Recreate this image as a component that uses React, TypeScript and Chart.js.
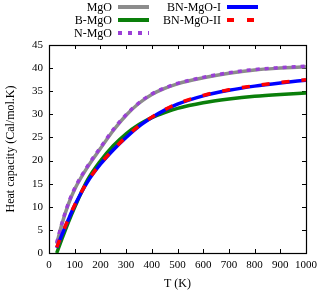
import React, { useEffect, useRef } from "react";
import { Chart, registerables } from "chart.js";

Chart.register(...registerables);

const temps = [30, 50, 75, 100, 150, 200, 250, 300, 350, 400, 450, 500, 600, 700, 800, 900, 1000];
const mgo = [2.0, 6.2, 10.5, 13.8, 18.6, 22.6, 26.5, 29.8, 32.4, 34.3, 35.6, 36.6, 37.9, 38.9, 39.6, 40.0, 40.3];
const nmgo = [2.2, 6.4, 10.7, 14.0, 18.8, 22.8, 26.7, 29.9, 32.5, 34.4, 35.7, 36.7, 38.0, 39.0, 39.7, 40.1, 40.4];
const bmgo = [0, 3.0, 6.6, 9.9, 15.8, 19.9, 23.2, 25.8, 27.8, 29.3, 30.4, 31.3, 32.5, 33.3, 33.9, 34.3, 34.6];
const bn1 = [1.1, 3.9, 7.2, 10.3, 15.4, 19.2, 22.3, 25.0, 27.4, 29.3, 30.9, 32.2, 34.0, 35.2, 36.1, 36.8, 37.4];
const bn2 = [1.2, 4.0, 7.3, 10.4, 15.5, 19.3, 22.4, 25.1, 27.5, 29.4, 31.0, 32.3, 34.1, 35.3, 36.2, 36.9, 37.5];

const seriesNames = ["MgO", "N-MgO", "B-MgO", "BN-MgO-I", "BN-MgO-II"];
const xTicks = [0, 100, 200, 300, 400, 500, 600, 700, 800, 900, 1000];
const yTicks = [0, 5, 10, 15, 20, 25, 30, 35, 40, 45];

const FONT = "'Liberation Serif', 'Times New Roman', serif";

const C_GRAY = "#8c8c8c";
const C_PURPLE = "#9a3fd6";
const C_GREEN = "#0a7f0a";
const C_BLUE = "#0000ff";
const C_RED = "#ff0000";

const frame = {
  id: "frame",
  beforeDatasetsDraw(chart: any) {
    const { ctx, chartArea: a, scales } = chart;
    ctx.save();
    ctx.strokeStyle = "#000";
    ctx.lineWidth = 1;
    const L = 4;
    ctx.beginPath();
    for (const t of xTicks) {
      const x = Math.round(scales.x.getPixelForValue(t)) + 0.5;
      ctx.moveTo(x, a.bottom);
      ctx.lineTo(x, a.bottom - L);
      ctx.moveTo(x, a.top);
      ctx.lineTo(x, a.top + L);
    }
    for (const t of yTicks) {
      const y = Math.round(scales.y.getPixelForValue(t)) + 0.5;
      ctx.moveTo(a.left, y);
      ctx.lineTo(a.left + L, y);
      ctx.moveTo(a.right, y);
      ctx.lineTo(a.right - L, y);
    }
    ctx.stroke();
    ctx.lineWidth = 1.2;
    ctx.strokeRect(Math.round(a.left) + 0.5, Math.round(a.top) + 0.5, Math.round(a.right - a.left), Math.round(a.bottom - a.top));
    ctx.restore();
  },
};

const legendItems = [
  { label: seriesNames[0], color: C_GRAY, dash: "solid", x: 112, y: 7 },
  { label: seriesNames[2], color: C_GREEN, dash: "solid", x: 112, y: 20 },
  { label: seriesNames[1], color: C_PURPLE, dash: "dot", x: 112, y: 33 },
  { label: seriesNames[3], color: C_BLUE, dash: "solid", x: 221, y: 7 },
  { label: seriesNames[4], color: C_RED, dash: "dash", x: 221, y: 20 },
];

function Sample({ color, dash }: { color: string; dash: string }) {
  const pattern =
    dash === "solid"
      ? undefined
      : dash === "dot"
      ? `repeating-linear-gradient(90deg, ${color} 0 4px, transparent 4px 10px)`
      : `repeating-linear-gradient(90deg, ${color} 0 7px, transparent 7px 20px)`;
  return (
    <div
      style={{
        width: 31,
        height: 3.5,
        background: pattern ? pattern : color,
      }}
    />
  );
}

export default function App() {
  const ref = useRef<HTMLCanvasElement>(null);
  useEffect(() => {
    const mk = (data: number[], color: string, order: number, dash: number[] = []) => ({
      data: temps.map((t, i) => ({ x: t, y: data[i] })),
      borderColor: color,
      backgroundColor: color,
      borderWidth: 3.5,
      borderDash: dash,
      pointRadius: 0,
      order,
      cubicInterpolationMode: "monotone" as const,
      fill: false,
    });
    const chart = new Chart(ref.current!, {
      type: "line",
      data: {
        datasets: [
          { label: seriesNames[0], ...mk(mgo, C_GRAY, 5) },
          { label: seriesNames[1], ...mk(nmgo, C_PURPLE, 4, [4, 5]) },
          { label: seriesNames[2], ...mk(bmgo, C_GREEN, 3) },
          { label: seriesNames[3], ...mk(bn1, C_BLUE, 2) },
          { label: seriesNames[4], ...mk(bn2, C_RED, 1, [8, 12]) },
        ],
      },
      options: {
        responsive: false,
        animation: false,
        layout: { padding: { top: 45, right: 26, left: 0, bottom: 0 } },
        plugins: { legend: { display: false }, tooltip: { enabled: false } },
        scales: {
          x: {
            type: "linear",
            min: 0,
            max: 1000,
            afterFit: (s: any) => {
              s.height = 38;
            },
            afterBuildTicks: (s: any) => {
              s.ticks = xTicks.map((v) => ({ value: v }));
            },
            grid: { display: false, drawTicks: false },
            border: { display: false },
            ticks: {
              padding: 6,
              color: "#000",
              font: { family: FONT, size: 11 },
              maxRotation: 0,
              autoSkip: false,
              callback: (v: any) => String(v),
            },
            title: { display: true, text: "T (K)", color: "#000", font: { family: FONT, size: 12 }, padding: { top: 3, bottom: 0 } },
          },
          y: {
            type: "linear",
            min: 0,
            max: 45,
            afterFit: (s: any) => {
              s.width = 49;
            },
            afterBuildTicks: (s: any) => {
              s.ticks = yTicks.map((v) => ({ value: v }));
            },
            grid: { display: false, drawTicks: false },
            border: { display: false },
            ticks: { padding: 6, color: "#000", font: { family: FONT, size: 11 }, callback: (v: any) => String(v) },
            title: {
              display: true,
              text: "Heat capacity (Cal/mol.K)",
              color: "#000",
              font: { family: FONT, size: 12 },
              padding: { top: 4, bottom: 0 },
            },
          },
        },
      },
      plugins: [frame],
    });
    return () => chart.destroy();
  }, []);

  return (
    <div style={{ position: "fixed", left: 0, top: 0, width: 332, height: 291, background: "#fff" }}>
      <canvas ref={ref} width={332} height={291} style={{ position: "absolute", left: 0, top: 0 }} />
      {legendItems.map((it) => (
        <div key={it.label}>
          <div
            style={{
              position: "absolute",
              right: 332 - it.x,
              top: it.y - 8,
              fontFamily: FONT,
              fontSize: 12,
              lineHeight: "16px",
              color: "#000",
              whiteSpace: "nowrap",
            }}
          >
            {it.label}
          </div>
          <div style={{ position: "absolute", left: it.x + 6, top: it.y - 2 }}>
            <Sample color={it.color} dash={it.dash} />
          </div>
        </div>
      ))}
    </div>
  );
}
